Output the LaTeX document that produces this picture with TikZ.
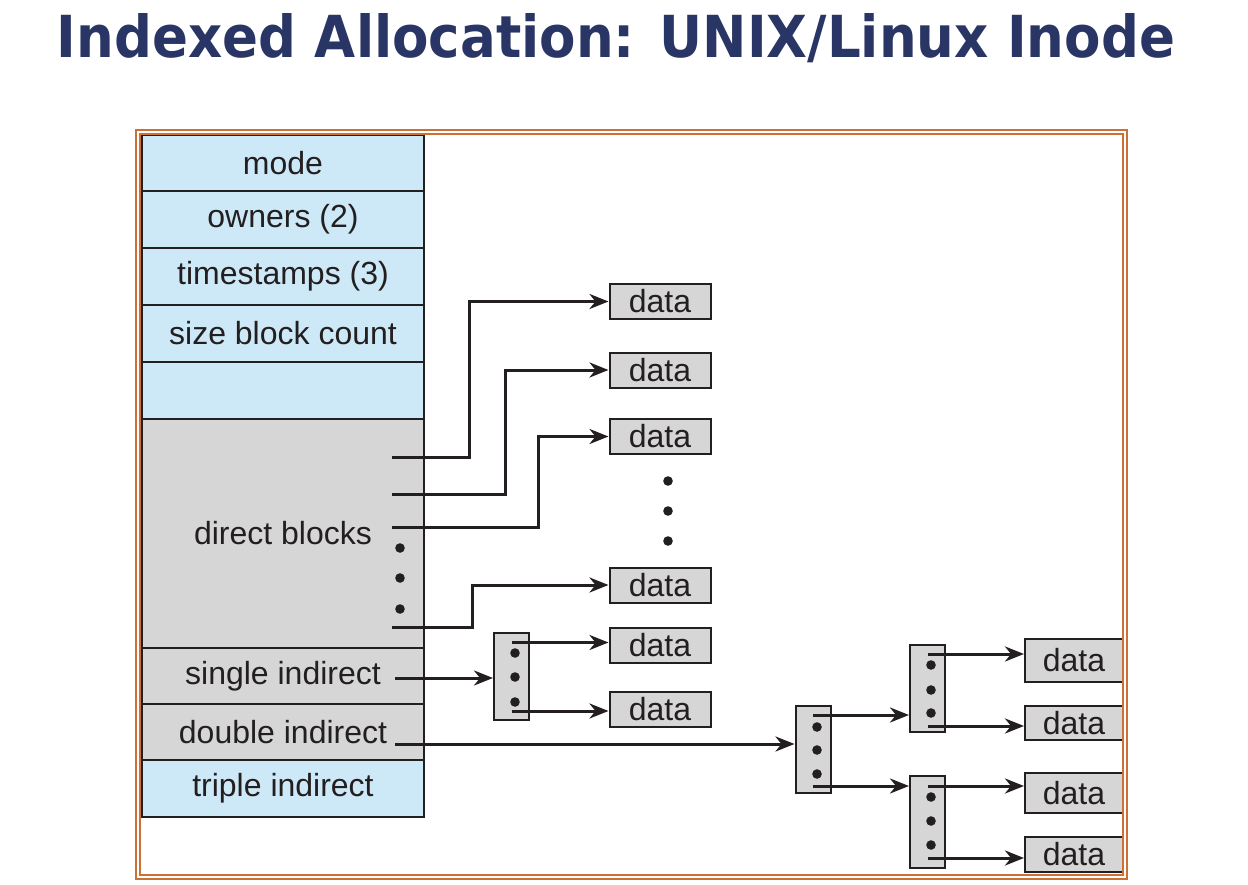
\documentclass[tikz,border=0pt]{standalone}
\usepackage{graphicx}
\usepackage{fontspec}
\setmainfont{Liberation Sans}
\newfontfamily\titlefont{DejaVu Sans}
\usetikzlibrary{arrows.meta}
\definecolor{titleblue}{RGB}{41,53,100}
\definecolor{inodeblue}{RGB}{205,233,248}
\definecolor{blockgray}{RGB}{214,214,214}
\definecolor{frameorange}{RGB}{204,112,51}
\definecolor{linegray}{RGB}{35,31,32}

\begin{document}
\begin{tikzpicture}[x=1pt, y=-1pt,
    every node/.style={font=\fontsize{32}{38}\selectfont, text=linegray},
    field/.style={draw=linegray, line width=2pt, minimum width=282pt, inner sep=0pt},
    datablock/.style={draw=linegray, line width=2pt, fill=blockgray, minimum width=101pt, minimum height=35pt, inner sep=0pt},
    indexblock/.style={draw=linegray, line width=2pt, fill=blockgray, minimum width=35pt, minimum height=87pt, inner sep=0pt},
    ptr/.style={line width=3pt, draw=linegray, -{Stealth[length=19pt,width=15pt,inset=6pt]}}]
    \useasboundingbox (0,0) rectangle (1248,884);

    \node[inner sep=0pt, anchor=base, text=titleblue] (title) at (616,57)
        {\resizebox{1118pt}{44pt}{\titlefont\bfseries Indexed Allocation: UNIX/Linux Inode}};

    % inode
    \node[field, fill=inodeblue, minimum height=57pt] (mode) at (283,163) {mode};
    \node[field, fill=inodeblue, minimum height=57pt] (owners) at (283,219.5) {owners (2)};
    \node[field, fill=inodeblue, minimum height=57pt] (times) at (283,276.5) {timestamps (3)};
    \node[field, fill=inodeblue, minimum height=57pt] (size) at (283,333.5) {size block count};
    \node[field, fill=inodeblue, minimum height=57pt] (blank) at (283,390.5) {};
    \node[field, fill=blockgray, minimum height=229pt] (direct) at (283,533.5) {direct blocks};
    \node[field, fill=blockgray, minimum height=56pt] (single) at (283,676) {single indirect};
    \node[field, fill=blockgray, minimum height=56pt] (double) at (283,732) {double indirect};
    \node[field, fill=inodeblue, minimum height=57pt] (triple) at (283,788.5) {triple indirect};

    \coordinate (p1) at (392,457);
    \coordinate (p2) at (392,494);
    \coordinate (p3) at (392,527);
    \coordinate (p4) at (392,627);
    \coordinate (p5) at (395,678);
    \coordinate (p6) at (395,744);

    % data blocks
    \node[datablock] (d1) at (660,301.5) {data};
    \node[datablock] (d2) at (660,370) {data};
    \node[datablock] (d3) at (660,436.5) {data};
    \node[datablock] (d4) at (660,585) {data};
    \node[datablock] (d5) at (660,645) {data};
    \node[datablock] (d6) at (660,709.5) {data};
    \node[datablock, minimum width=98pt, minimum height=43pt] (r1) at (1074,660.5) {data};
    \node[datablock, minimum width=98pt, minimum height=34pt] (r2) at (1074,723) {data};
    \node[datablock, minimum width=98pt, minimum height=40pt] (r3) at (1074,793) {data};
    \node[datablock, minimum width=98pt, minimum height=35pt] (r4) at (1074,854.5) {data};

    % index blocks
    \node[indexblock] (ib1) at (511.5,676.5) {};
    \node[indexblock] (ib2) at (813,749.5) {};
    \node[indexblock] (ib3) at (927.5,688.5) {};
    \node[indexblock, minimum height=92pt] (ib4) at (927.5,822) {};

    \foreach \x/\y in {400/548, 400/578, 400/609, 668/481, 668/511, 668/541,
                       515/653, 515/677, 515/702, 817/727, 817/750, 817/774,
                       931/665, 931/690, 931/713, 931/797, 931/821, 931/845}
        \fill[linegray] (\x,\y) circle (4.8pt);

    \coordinate (s1) at ([yshift=-10.5pt]ib1.north);
    \coordinate (s2) at ([yshift=10pt]ib1.south);
    \coordinate (s3) at ([yshift=-10pt]ib2.north);
    \coordinate (s4) at ([yshift=8pt]ib2.south);
    \coordinate (s5) at ([yshift=-10pt]ib3.north);
    \coordinate (s6) at ([yshift=7pt]ib3.south);
    \coordinate (s7) at ([yshift=-11pt]ib4.north);
    \coordinate (s8) at ([yshift=11pt]ib4.south);

    \draw[ptr] (p1) -- ++(77,0) |- (d1.west);
    \draw[ptr] (p2) -- ++(113,0) |- (d2.west);
    \draw[ptr] (p3) -- ++(146,0) |- (d3.west);
    \draw[ptr] (p4) -- ++(80,0) |- (d4.west);
    \draw[ptr] (p5) -- (p5 -| ib1.west);
    \draw[ptr] (p6) -- (p6 -| ib2.west);
    \draw[ptr] (s1) -- (s1 -| d5.west);
    \draw[ptr] (s2) -- (s2 -| d6.west);
    \draw[ptr] (s3) -- (s3 -| ib3.west);
    \draw[ptr] (s4) -- (s4 -| ib4.west);
    \draw[ptr] (s5) -- (s5 -| r1.west);
    \draw[ptr] (s6) -- (s6 -| r2.west);
    \draw[ptr] (s7) -- (s7 -| r3.west);
    \draw[ptr] (s8) -- (s8 -| r4.west);

    \draw[frameorange, line width=2pt, double=white, double distance=1.5pt] (138,132) rectangle (1125,877);
\end{tikzpicture}
\end{document}
